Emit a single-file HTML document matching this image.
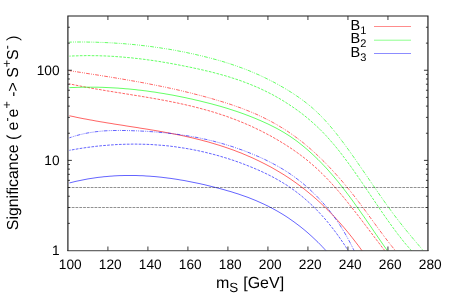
<!DOCTYPE html>
<html><head><meta charset="utf-8"><title>plot</title>
<style>
html,body{margin:0;padding:0;background:#fff;}
svg{display:block;}
text{font-family:"Liberation Sans",sans-serif;fill:#000;text-rendering:geometricPrecision;}
</style></head><body>
<svg width="453" height="307" viewBox="0 0 453 307" style="will-change:transform">
<rect x="0" y="0" width="453" height="307" fill="#fff"/>
<defs><clipPath id="pc"><rect x="69.4" y="16.0" width="358.55" height="234.5"/></clipPath></defs>
<g clip-path="url(#pc)">
<path d="M68.0,115.4 L70.0,115.9 L72.0,116.3 L74.0,116.7 L76.0,117.2 L78.0,117.6 L80.0,118.0 L82.0,118.4 L84.0,118.8 L86.0,119.1 L88.0,119.5 L90.0,119.9 L92.0,120.2 L94.0,120.6 L96.0,121.0 L98.0,121.3 L100.0,121.7 L102.0,122.0 L104.0,122.3 L106.0,122.7 L108.0,123.0 L110.0,123.3 L112.0,123.6 L114.0,124.0 L116.0,124.3 L118.0,124.6 L120.0,124.9 L122.0,125.2 L124.0,125.5 L126.0,125.9 L128.0,126.2 L130.0,126.5 L132.0,126.8 L134.0,127.1 L136.0,127.4 L138.0,127.7 L140.0,128.1 L142.0,128.4 L144.0,128.7 L146.0,129.0 L148.0,129.3 L150.0,129.7 L152.0,130.0 L154.0,130.3 L156.0,130.7 L158.0,131.0 L160.0,131.4 L162.0,131.7 L164.0,132.1 L166.0,132.5 L168.0,132.8 L170.0,133.2 L172.0,133.6 L174.0,134.0 L176.0,134.4 L178.0,134.8 L180.0,135.2 L182.0,135.6 L184.0,136.0 L186.0,136.5 L188.0,136.9 L190.0,137.4 L192.0,137.8 L194.0,138.3 L196.0,138.8 L198.0,139.3 L200.0,139.8 L202.0,140.3 L204.0,140.9 L206.0,141.4 L208.0,141.9 L210.0,142.5 L212.0,143.1 L214.0,143.7 L216.0,144.3 L218.0,144.9 L220.0,145.5 L222.0,146.2 L224.0,146.8 L226.0,147.5 L228.0,148.2 L230.0,148.9 L232.0,149.6 L234.0,150.3 L236.0,151.1 L238.0,151.9 L240.0,152.6 L242.0,153.4 L244.0,154.3 L246.0,155.1 L248.0,156.0 L250.0,156.8 L252.0,157.7 L254.0,158.6 L256.0,159.6 L258.0,160.5 L260.0,161.5 L262.0,162.5 L264.0,163.5 L266.0,164.5 L268.0,165.6 L270.0,166.6 L272.0,167.7 L274.0,168.9 L276.0,170.0 L278.0,171.2 L280.0,172.4 L282.0,173.6 L284.0,174.8 L286.0,176.1 L288.0,177.4 L290.0,178.7 L292.0,180.1 L294.0,181.5 L296.0,182.9 L298.0,184.4 L300.0,185.8 L302.0,187.4 L304.0,188.9 L306.0,190.5 L308.0,192.1 L310.0,193.8 L312.0,195.4 L314.0,197.2 L316.0,198.9 L318.0,200.7 L320.0,202.5 L322.0,204.4 L324.0,206.3 L326.0,208.3 L328.0,210.2 L330.0,212.3 L332.0,214.3 L334.0,216.4 L336.0,218.6 L338.0,220.8 L340.0,223.0 L342.0,225.3 L344.0,227.6 L346.0,230.0 L348.0,232.4 L350.0,234.9 L352.0,237.4 L354.0,240.0 L356.0,242.6 L358.0,245.2 L360.0,247.9 L361.5,250.0 L364.5,254.1" fill="none" stroke="#ff0000" stroke-width="0.9" stroke-opacity="0.68"/>
<path d="M68.0,83.5 L70.0,84.0 L72.0,84.4 L74.0,84.8 L76.0,85.2 L78.0,85.6 L80.0,86.0 L82.0,86.4 L84.0,86.8 L86.0,87.2 L88.0,87.5 L90.0,87.9 L92.0,88.3 L94.0,88.6 L96.0,89.0 L98.0,89.3 L100.0,89.6 L102.0,90.0 L104.0,90.3 L106.0,90.7 L108.0,91.0 L110.0,91.3 L112.0,91.6 L114.0,92.0 L116.0,92.3 L118.0,92.6 L120.0,92.9 L122.0,93.2 L124.0,93.6 L126.0,93.9 L128.0,94.2 L130.0,94.5 L132.0,94.9 L134.0,95.2 L136.0,95.5 L138.0,95.8 L140.0,96.1 L142.0,96.5 L144.0,96.8 L146.0,97.1 L148.0,97.5 L150.0,97.8 L152.0,98.2 L154.0,98.5 L156.0,98.9 L158.0,99.2 L160.0,99.6 L162.0,100.0 L164.0,100.3 L166.0,100.7 L168.0,101.1 L170.0,101.5 L172.0,101.9 L174.0,102.3 L176.0,102.7 L178.0,103.1 L180.0,103.6 L182.0,104.0 L184.0,104.4 L186.0,104.9 L188.0,105.4 L190.0,105.8 L192.0,106.3 L194.0,106.8 L196.0,107.3 L198.0,107.8 L200.0,108.3 L202.0,108.9 L204.0,109.4 L206.0,110.0 L208.0,110.5 L210.0,111.1 L212.0,111.7 L214.0,112.3 L216.0,112.9 L218.0,113.6 L220.0,114.2 L222.0,114.9 L224.0,115.5 L226.0,116.2 L228.0,116.9 L230.0,117.7 L232.0,118.4 L234.0,119.1 L236.0,119.9 L238.0,120.7 L240.0,121.5 L242.0,122.3 L244.0,123.1 L246.0,124.0 L248.0,124.8 L250.0,125.7 L252.0,126.6 L254.0,127.6 L256.0,128.5 L258.0,129.5 L260.0,130.4 L262.0,131.4 L264.0,132.5 L266.0,133.5 L268.0,134.6 L270.0,135.6 L272.0,136.7 L274.0,137.9 L276.0,139.0 L278.0,140.2 L280.0,141.4 L282.0,142.6 L284.0,143.8 L286.0,145.1 L288.0,146.4 L290.0,147.7 L292.0,149.0 L294.0,150.4 L296.0,151.8 L298.0,153.2 L300.0,154.7 L302.0,156.2 L304.0,157.7 L306.0,159.3 L308.0,160.9 L310.0,162.6 L312.0,164.3 L314.0,166.1 L316.0,167.8 L318.0,169.7 L320.0,171.6 L322.0,173.5 L324.0,175.5 L326.0,177.6 L328.0,179.6 L330.0,181.8 L332.0,183.9 L334.0,186.2 L336.0,188.4 L338.0,190.7 L340.0,193.1 L342.0,195.4 L344.0,197.9 L346.0,200.3 L348.0,202.8 L350.0,205.3 L352.0,207.8 L354.0,210.4 L356.0,212.9 L358.0,215.5 L360.0,218.1 L362.0,220.7 L364.0,223.4 L366.0,226.0 L368.0,228.6 L370.0,231.3 L372.0,233.9 L374.0,236.6 L376.0,239.2 L378.0,241.8 L380.0,244.4 L382.0,247.1 L384.0,249.6 L384.6,250.4 L387.6,254.3" fill="none" stroke="#ff0000" stroke-width="0.9" stroke-opacity="0.68" stroke-dasharray="2.7 1.25"/>
<path d="M68.0,70.5 L70.0,70.8 L72.0,71.1 L74.0,71.4 L76.0,71.7 L78.0,72.0 L80.0,72.3 L82.0,72.6 L84.0,72.9 L86.0,73.3 L88.0,73.6 L90.0,73.9 L92.0,74.2 L94.0,74.5 L96.0,74.8 L98.0,75.1 L100.0,75.4 L102.0,75.8 L104.0,76.1 L106.0,76.4 L108.0,76.7 L110.0,77.0 L112.0,77.4 L114.0,77.7 L116.0,78.0 L118.0,78.4 L120.0,78.7 L122.0,79.0 L124.0,79.4 L126.0,79.7 L128.0,80.1 L130.0,80.4 L132.0,80.8 L134.0,81.1 L136.0,81.5 L138.0,81.8 L140.0,82.2 L142.0,82.6 L144.0,82.9 L146.0,83.3 L148.0,83.7 L150.0,84.1 L152.0,84.5 L154.0,84.9 L156.0,85.3 L158.0,85.7 L160.0,86.1 L162.0,86.5 L164.0,86.9 L166.0,87.3 L168.0,87.8 L170.0,88.2 L172.0,88.6 L174.0,89.1 L176.0,89.5 L178.0,90.0 L180.0,90.4 L182.0,90.9 L184.0,91.4 L186.0,91.9 L188.0,92.4 L190.0,92.8 L192.0,93.3 L194.0,93.9 L196.0,94.4 L198.0,94.9 L200.0,95.4 L202.0,95.9 L204.0,96.5 L206.0,97.0 L208.0,97.6 L210.0,98.1 L212.0,98.7 L214.0,99.3 L216.0,99.9 L218.0,100.5 L220.0,101.1 L222.0,101.7 L224.0,102.3 L226.0,102.9 L228.0,103.6 L230.0,104.2 L232.0,104.9 L234.0,105.6 L236.0,106.3 L238.0,107.0 L240.0,107.7 L242.0,108.4 L244.0,109.2 L246.0,110.0 L248.0,110.8 L250.0,111.6 L252.0,112.4 L254.0,113.3 L256.0,114.1 L258.0,115.0 L260.0,116.0 L262.0,116.9 L264.0,117.9 L266.0,118.9 L268.0,119.9 L270.0,120.9 L272.0,122.0 L274.0,123.1 L276.0,124.2 L278.0,125.4 L280.0,126.6 L282.0,127.8 L284.0,129.0 L286.0,130.3 L288.0,131.6 L290.0,133.0 L292.0,134.4 L294.0,135.8 L296.0,137.3 L298.0,138.7 L300.0,140.3 L302.0,141.8 L304.0,143.4 L306.0,145.1 L308.0,146.8 L310.0,148.5 L312.0,150.3 L314.0,152.0 L316.0,153.9 L318.0,155.8 L320.0,157.7 L322.0,159.6 L324.0,161.6 L326.0,163.6 L328.0,165.7 L330.0,167.8 L332.0,169.9 L334.0,172.1 L336.0,174.3 L338.0,176.5 L340.0,178.8 L342.0,181.1 L344.0,183.5 L346.0,185.9 L348.0,188.3 L350.0,190.7 L352.0,193.3 L354.0,195.8 L356.0,198.4 L358.0,201.0 L360.0,203.6 L362.0,206.3 L364.0,209.0 L366.0,211.7 L368.0,214.4 L370.0,217.2 L372.0,219.9 L374.0,222.6 L376.0,225.4 L378.0,228.1 L380.0,230.8 L382.0,233.5 L384.0,236.2 L386.0,238.8 L388.0,241.4 L390.0,244.0 L392.0,246.5 L394.0,249.0 L395.2,250.5 L398.2,254.1" fill="none" stroke="#ff0000" stroke-width="0.9" stroke-opacity="0.68" stroke-dasharray="3.8 1.25 0.9 1.15 0.9 1.15"/>
<path d="M68.0,87.7 L70.0,87.6 L72.0,87.5 L74.0,87.5 L76.0,87.4 L78.0,87.3 L80.0,87.3 L82.0,87.2 L84.0,87.2 L86.0,87.2 L88.0,87.2 L90.0,87.2 L92.0,87.2 L94.0,87.2 L96.0,87.2 L98.0,87.2 L100.0,87.3 L102.0,87.3 L104.0,87.4 L106.0,87.5 L108.0,87.6 L110.0,87.7 L112.0,87.8 L114.0,87.9 L116.0,88.0 L118.0,88.1 L120.0,88.3 L122.0,88.4 L124.0,88.6 L126.0,88.8 L128.0,88.9 L130.0,89.1 L132.0,89.3 L134.0,89.5 L136.0,89.7 L138.0,90.0 L140.0,90.2 L142.0,90.4 L144.0,90.7 L146.0,90.9 L148.0,91.2 L150.0,91.5 L152.0,91.8 L154.0,92.0 L156.0,92.3 L158.0,92.7 L160.0,93.0 L162.0,93.3 L164.0,93.6 L166.0,94.0 L168.0,94.3 L170.0,94.7 L172.0,95.0 L174.0,95.4 L176.0,95.8 L178.0,96.2 L180.0,96.6 L182.0,97.0 L184.0,97.4 L186.0,97.8 L188.0,98.3 L190.0,98.7 L192.0,99.1 L194.0,99.6 L196.0,100.1 L198.0,100.5 L200.0,101.0 L202.0,101.5 L204.0,102.0 L206.0,102.5 L208.0,103.0 L210.0,103.5 L212.0,104.0 L214.0,104.6 L216.0,105.1 L218.0,105.7 L220.0,106.2 L222.0,106.8 L224.0,107.4 L226.0,108.0 L228.0,108.6 L230.0,109.3 L232.0,109.9 L234.0,110.6 L236.0,111.2 L238.0,111.9 L240.0,112.6 L242.0,113.3 L244.0,114.0 L246.0,114.8 L248.0,115.5 L250.0,116.3 L252.0,117.1 L254.0,117.9 L256.0,118.7 L258.0,119.6 L260.0,120.4 L262.0,121.3 L264.0,122.2 L266.0,123.1 L268.0,124.0 L270.0,125.0 L272.0,126.0 L274.0,127.0 L276.0,128.0 L278.0,129.1 L280.0,130.2 L282.0,131.4 L284.0,132.5 L286.0,133.8 L288.0,135.0 L290.0,136.3 L292.0,137.7 L294.0,139.1 L296.0,140.5 L298.0,142.0 L300.0,143.6 L302.0,145.2 L304.0,146.8 L306.0,148.5 L308.0,150.2 L310.0,152.0 L312.0,153.8 L314.0,155.7 L316.0,157.6 L318.0,159.5 L320.0,161.5 L322.0,163.6 L324.0,165.7 L326.0,167.8 L328.0,170.0 L330.0,172.3 L332.0,174.6 L334.0,176.9 L336.0,179.3 L338.0,181.7 L340.0,184.2 L342.0,186.7 L344.0,189.3 L346.0,191.9 L348.0,194.5 L350.0,197.2 L352.0,199.9 L354.0,202.7 L356.0,205.5 L358.0,208.3 L360.0,211.1 L362.0,214.0 L364.0,216.8 L366.0,219.7 L368.0,222.6 L370.0,225.5 L372.0,228.4 L374.0,231.4 L376.0,234.3 L378.0,237.2 L380.0,240.1 L382.0,243.0 L384.0,245.9 L386.0,248.7 L387.4,250.7 L390.4,255.0" fill="none" stroke="#00ff00" stroke-width="0.9" stroke-opacity="0.68"/>
<path d="M68.0,56.2 L70.0,56.1 L72.0,56.0 L74.0,55.9 L76.0,55.9 L78.0,55.8 L80.0,55.7 L82.0,55.7 L84.0,55.7 L86.0,55.6 L88.0,55.6 L90.0,55.6 L92.0,55.7 L94.0,55.7 L96.0,55.7 L98.0,55.7 L100.0,55.8 L102.0,55.9 L104.0,55.9 L106.0,56.0 L108.0,56.1 L110.0,56.2 L112.0,56.3 L114.0,56.4 L116.0,56.6 L118.0,56.7 L120.0,56.9 L122.0,57.0 L124.0,57.2 L126.0,57.4 L128.0,57.6 L130.0,57.7 L132.0,57.9 L134.0,58.2 L136.0,58.4 L138.0,58.6 L140.0,58.8 L142.0,59.1 L144.0,59.3 L146.0,59.6 L148.0,59.9 L150.0,60.1 L152.0,60.4 L154.0,60.7 L156.0,61.0 L158.0,61.3 L160.0,61.6 L162.0,62.0 L164.0,62.3 L166.0,62.6 L168.0,63.0 L170.0,63.3 L172.0,63.7 L174.0,64.1 L176.0,64.4 L178.0,64.8 L180.0,65.2 L182.0,65.6 L184.0,66.0 L186.0,66.4 L188.0,66.8 L190.0,67.2 L192.0,67.6 L194.0,68.1 L196.0,68.5 L198.0,68.9 L200.0,69.4 L202.0,69.8 L204.0,70.3 L206.0,70.8 L208.0,71.2 L210.0,71.7 L212.0,72.2 L214.0,72.7 L216.0,73.3 L218.0,73.8 L220.0,74.3 L222.0,74.9 L224.0,75.4 L226.0,76.0 L228.0,76.6 L230.0,77.2 L232.0,77.9 L234.0,78.5 L236.0,79.2 L238.0,79.8 L240.0,80.5 L242.0,81.2 L244.0,82.0 L246.0,82.7 L248.0,83.5 L250.0,84.3 L252.0,85.1 L254.0,85.9 L256.0,86.8 L258.0,87.6 L260.0,88.5 L262.0,89.5 L264.0,90.4 L266.0,91.4 L268.0,92.4 L270.0,93.4 L272.0,94.4 L274.0,95.5 L276.0,96.6 L278.0,97.8 L280.0,98.9 L282.0,100.1 L284.0,101.3 L286.0,102.6 L288.0,103.9 L290.0,105.2 L292.0,106.5 L294.0,107.9 L296.0,109.3 L298.0,110.7 L300.0,112.2 L302.0,113.7 L304.0,115.3 L306.0,116.9 L308.0,118.6 L310.0,120.2 L312.0,122.0 L314.0,123.8 L316.0,125.6 L318.0,127.5 L320.0,129.4 L322.0,131.4 L324.0,133.5 L326.0,135.6 L328.0,137.8 L330.0,140.1 L332.0,142.4 L334.0,144.7 L336.0,147.1 L338.0,149.6 L340.0,152.1 L342.0,154.7 L344.0,157.3 L346.0,160.0 L348.0,162.7 L350.0,165.4 L352.0,168.2 L354.0,171.0 L356.0,173.9 L358.0,176.8 L360.0,179.7 L362.0,182.6 L364.0,185.5 L366.0,188.5 L368.0,191.4 L370.0,194.4 L372.0,197.4 L374.0,200.3 L376.0,203.3 L378.0,206.2 L380.0,209.2 L382.0,212.1 L384.0,215.0 L386.0,217.9 L388.0,220.7 L390.0,223.5 L392.0,226.3 L394.0,229.0 L396.0,231.7 L398.0,234.4 L400.0,236.9 L402.0,239.5 L404.0,242.0 L406.0,244.4 L408.0,246.7 L410.0,249.0 L410.7,249.8 L413.7,253.2" fill="none" stroke="#00ff00" stroke-width="0.9" stroke-opacity="0.68" stroke-dasharray="2.7 1.25"/>
<path d="M68.0,42.1 L70.0,42.1 L72.0,42.1 L74.0,42.0 L76.0,42.0 L78.0,42.0 L80.0,42.0 L82.0,42.0 L84.0,42.0 L86.0,42.0 L88.0,42.1 L90.0,42.1 L92.0,42.1 L94.0,42.2 L96.0,42.2 L98.0,42.3 L100.0,42.4 L102.0,42.4 L104.0,42.5 L106.0,42.6 L108.0,42.7 L110.0,42.8 L112.0,42.9 L114.0,43.0 L116.0,43.2 L118.0,43.3 L120.0,43.4 L122.0,43.6 L124.0,43.7 L126.0,43.9 L128.0,44.1 L130.0,44.2 L132.0,44.4 L134.0,44.6 L136.0,44.8 L138.0,45.0 L140.0,45.2 L142.0,45.5 L144.0,45.7 L146.0,45.9 L148.0,46.2 L150.0,46.4 L152.0,46.7 L154.0,47.0 L156.0,47.3 L158.0,47.6 L160.0,47.8 L162.0,48.2 L164.0,48.5 L166.0,48.8 L168.0,49.1 L170.0,49.4 L172.0,49.8 L174.0,50.1 L176.0,50.5 L178.0,50.9 L180.0,51.3 L182.0,51.6 L184.0,52.0 L186.0,52.4 L188.0,52.9 L190.0,53.3 L192.0,53.7 L194.0,54.1 L196.0,54.6 L198.0,55.1 L200.0,55.5 L202.0,56.0 L204.0,56.5 L206.0,57.0 L208.0,57.5 L210.0,58.0 L212.0,58.5 L214.0,59.1 L216.0,59.6 L218.0,60.2 L220.0,60.7 L222.0,61.3 L224.0,61.9 L226.0,62.6 L228.0,63.2 L230.0,63.8 L232.0,64.5 L234.0,65.2 L236.0,65.8 L238.0,66.6 L240.0,67.3 L242.0,68.0 L244.0,68.8 L246.0,69.5 L248.0,70.3 L250.0,71.1 L252.0,72.0 L254.0,72.8 L256.0,73.7 L258.0,74.5 L260.0,75.4 L262.0,76.4 L264.0,77.3 L266.0,78.3 L268.0,79.3 L270.0,80.3 L272.0,81.3 L274.0,82.3 L276.0,83.4 L278.0,84.5 L280.0,85.6 L282.0,86.8 L284.0,87.9 L286.0,89.1 L288.0,90.3 L290.0,91.6 L292.0,92.8 L294.0,94.1 L296.0,95.5 L298.0,96.8 L300.0,98.2 L302.0,99.7 L304.0,101.2 L306.0,102.7 L308.0,104.3 L310.0,105.9 L312.0,107.6 L314.0,109.4 L316.0,111.2 L318.0,113.1 L320.0,115.1 L322.0,117.1 L324.0,119.2 L326.0,121.4 L328.0,123.6 L330.0,125.9 L332.0,128.3 L334.0,130.7 L336.0,133.2 L338.0,135.7 L340.0,138.3 L342.0,141.0 L344.0,143.6 L346.0,146.4 L348.0,149.1 L350.0,151.9 L352.0,154.7 L354.0,157.5 L356.0,160.4 L358.0,163.3 L360.0,166.2 L362.0,169.1 L364.0,172.0 L366.0,174.9 L368.0,177.8 L370.0,180.8 L372.0,183.7 L374.0,186.6 L376.0,189.5 L378.0,192.4 L380.0,195.3 L382.0,198.1 L384.0,201.0 L386.0,203.8 L388.0,206.6 L390.0,209.3 L392.0,212.1 L394.0,214.8 L396.0,217.4 L398.0,220.0 L400.0,222.6 L402.0,225.1 L404.0,227.6 L406.0,230.1 L408.0,232.5 L410.0,234.9 L412.0,237.3 L414.0,239.7 L416.0,242.1 L418.0,244.4 L420.0,246.8 L422.0,249.2 L422.8,250.2 L425.8,253.8" fill="none" stroke="#00ff00" stroke-width="0.9" stroke-opacity="0.68" stroke-dasharray="3.8 1.25 0.9 1.15 0.9 1.15"/>
<path d="M68.0,183.3 L70.0,182.8 L72.0,182.3 L74.0,181.8 L76.0,181.3 L78.0,180.9 L80.0,180.5 L82.0,180.1 L84.0,179.7 L86.0,179.3 L88.0,178.9 L90.0,178.6 L92.0,178.3 L94.0,178.0 L96.0,177.7 L98.0,177.4 L100.0,177.2 L102.0,177.0 L104.0,176.7 L106.0,176.6 L108.0,176.4 L110.0,176.2 L112.0,176.1 L114.0,175.9 L116.0,175.8 L118.0,175.7 L120.0,175.6 L122.0,175.6 L124.0,175.5 L126.0,175.5 L128.0,175.5 L130.0,175.5 L132.0,175.5 L134.0,175.5 L136.0,175.5 L138.0,175.6 L140.0,175.7 L142.0,175.7 L144.0,175.8 L146.0,176.0 L148.0,176.1 L150.0,176.2 L152.0,176.4 L154.0,176.5 L156.0,176.7 L158.0,176.9 L160.0,177.1 L162.0,177.3 L164.0,177.6 L166.0,177.8 L168.0,178.1 L170.0,178.3 L172.0,178.6 L174.0,178.9 L176.0,179.2 L178.0,179.5 L180.0,179.9 L182.0,180.2 L184.0,180.5 L186.0,180.9 L188.0,181.3 L190.0,181.7 L192.0,182.1 L194.0,182.5 L196.0,182.9 L198.0,183.3 L200.0,183.7 L202.0,184.2 L204.0,184.6 L206.0,185.1 L208.0,185.6 L210.0,186.1 L212.0,186.6 L214.0,187.1 L216.0,187.6 L218.0,188.1 L220.0,188.6 L222.0,189.2 L224.0,189.7 L226.0,190.3 L228.0,190.9 L230.0,191.4 L232.0,192.0 L234.0,192.7 L236.0,193.3 L238.0,193.9 L240.0,194.6 L242.0,195.3 L244.0,196.0 L246.0,196.7 L248.0,197.4 L250.0,198.2 L252.0,199.0 L254.0,199.8 L256.0,200.6 L258.0,201.5 L260.0,202.4 L262.0,203.3 L264.0,204.2 L266.0,205.2 L268.0,206.1 L270.0,207.2 L272.0,208.2 L274.0,209.3 L276.0,210.4 L278.0,211.5 L280.0,212.7 L282.0,213.9 L284.0,215.1 L286.0,216.4 L288.0,217.7 L290.0,219.1 L292.0,220.5 L294.0,221.9 L296.0,223.4 L298.0,224.9 L300.0,226.4 L302.0,228.0 L304.0,229.6 L306.0,231.3 L308.0,233.0 L310.0,234.8 L312.0,236.6 L314.0,238.5 L316.0,240.4 L318.0,242.3 L320.0,244.3 L322.0,246.4 L324.0,248.5 L325.1,249.7 L328.1,252.9" fill="none" stroke="#0000ff" stroke-width="0.9" stroke-opacity="0.68"/>
<path d="M68.0,150.6 L70.0,150.2 L72.0,149.9 L74.0,149.5 L76.0,149.2 L78.0,148.8 L80.0,148.5 L82.0,148.2 L84.0,147.9 L86.0,147.6 L88.0,147.3 L90.0,147.1 L92.0,146.8 L94.0,146.6 L96.0,146.3 L98.0,146.1 L100.0,145.9 L102.0,145.7 L104.0,145.5 L106.0,145.4 L108.0,145.2 L110.0,145.0 L112.0,144.9 L114.0,144.8 L116.0,144.6 L118.0,144.5 L120.0,144.4 L122.0,144.4 L124.0,144.3 L126.0,144.2 L128.0,144.2 L130.0,144.2 L132.0,144.1 L134.0,144.1 L136.0,144.1 L138.0,144.2 L140.0,144.2 L142.0,144.2 L144.0,144.3 L146.0,144.3 L148.0,144.4 L150.0,144.5 L152.0,144.6 L154.0,144.7 L156.0,144.9 L158.0,145.0 L160.0,145.2 L162.0,145.3 L164.0,145.5 L166.0,145.7 L168.0,145.9 L170.0,146.1 L172.0,146.4 L174.0,146.6 L176.0,146.9 L178.0,147.2 L180.0,147.5 L182.0,147.8 L184.0,148.1 L186.0,148.4 L188.0,148.8 L190.0,149.1 L192.0,149.5 L194.0,149.9 L196.0,150.3 L198.0,150.7 L200.0,151.1 L202.0,151.6 L204.0,152.0 L206.0,152.5 L208.0,153.0 L210.0,153.5 L212.0,154.0 L214.0,154.5 L216.0,155.1 L218.0,155.6 L220.0,156.2 L222.0,156.8 L224.0,157.4 L226.0,158.0 L228.0,158.6 L230.0,159.3 L232.0,159.9 L234.0,160.6 L236.0,161.3 L238.0,162.0 L240.0,162.7 L242.0,163.5 L244.0,164.2 L246.0,165.0 L248.0,165.8 L250.0,166.6 L252.0,167.4 L254.0,168.2 L256.0,169.1 L258.0,169.9 L260.0,170.8 L262.0,171.7 L264.0,172.7 L266.0,173.6 L268.0,174.6 L270.0,175.6 L272.0,176.6 L274.0,177.7 L276.0,178.8 L278.0,179.9 L280.0,181.1 L282.0,182.2 L284.0,183.5 L286.0,184.7 L288.0,186.0 L290.0,187.4 L292.0,188.8 L294.0,190.2 L296.0,191.7 L298.0,193.2 L300.0,194.8 L302.0,196.4 L304.0,198.1 L306.0,199.8 L308.0,201.6 L310.0,203.4 L312.0,205.3 L314.0,207.2 L316.0,209.2 L318.0,211.3 L320.0,213.4 L322.0,215.6 L324.0,217.8 L326.0,220.1 L328.0,222.5 L330.0,225.0 L332.0,227.5 L334.0,230.1 L336.0,232.7 L338.0,235.5 L340.0,238.3 L342.0,241.2 L344.0,244.1 L346.0,247.2 L348.0,250.3 L351.0,255.0" fill="none" stroke="#0000ff" stroke-width="0.9" stroke-opacity="0.68" stroke-dasharray="2.7 1.25"/>
<path d="M68.0,138.4 L70.0,137.6 L72.0,137.0 L74.0,136.3 L76.0,135.7 L78.0,135.2 L80.0,134.6 L82.0,134.2 L84.0,133.7 L86.0,133.3 L88.0,132.9 L90.0,132.6 L92.0,132.3 L94.0,132.0 L96.0,131.7 L98.0,131.5 L100.0,131.3 L102.0,131.1 L104.0,130.9 L106.0,130.8 L108.0,130.7 L110.0,130.6 L112.0,130.6 L114.0,130.5 L116.0,130.5 L118.0,130.5 L120.0,130.4 L122.0,130.5 L124.0,130.5 L126.0,130.5 L128.0,130.6 L130.0,130.6 L132.0,130.7 L134.0,130.8 L136.0,130.8 L138.0,130.9 L140.0,131.0 L142.0,131.1 L144.0,131.2 L146.0,131.3 L148.0,131.4 L150.0,131.6 L152.0,131.7 L154.0,131.9 L156.0,132.0 L158.0,132.2 L160.0,132.4 L162.0,132.6 L164.0,132.7 L166.0,133.0 L168.0,133.2 L170.0,133.4 L172.0,133.6 L174.0,133.9 L176.0,134.1 L178.0,134.4 L180.0,134.7 L182.0,135.0 L184.0,135.3 L186.0,135.6 L188.0,135.9 L190.0,136.3 L192.0,136.6 L194.0,137.0 L196.0,137.3 L198.0,137.7 L200.0,138.1 L202.0,138.6 L204.0,139.0 L206.0,139.4 L208.0,139.9 L210.0,140.4 L212.0,140.8 L214.0,141.3 L216.0,141.9 L218.0,142.4 L220.0,142.9 L222.0,143.5 L224.0,144.1 L226.0,144.7 L228.0,145.3 L230.0,145.9 L232.0,146.5 L234.0,147.2 L236.0,147.9 L238.0,148.6 L240.0,149.3 L242.0,150.0 L244.0,150.7 L246.0,151.5 L248.0,152.3 L250.0,153.1 L252.0,153.9 L254.0,154.7 L256.0,155.6 L258.0,156.4 L260.0,157.3 L262.0,158.2 L264.0,159.1 L266.0,160.1 L268.0,161.1 L270.0,162.1 L272.0,163.1 L274.0,164.2 L276.0,165.2 L278.0,166.4 L280.0,167.5 L282.0,168.7 L284.0,169.9 L286.0,171.2 L288.0,172.5 L290.0,173.8 L292.0,175.2 L294.0,176.6 L296.0,178.1 L298.0,179.6 L300.0,181.1 L302.0,182.7 L304.0,184.4 L306.0,186.1 L308.0,187.9 L310.0,189.7 L312.0,191.6 L314.0,193.5 L316.0,195.5 L318.0,197.5 L320.0,199.7 L322.0,201.8 L324.0,204.1 L326.0,206.4 L328.0,208.8 L330.0,211.3 L332.0,213.9 L334.0,216.6 L336.0,219.4 L338.0,222.3 L340.0,225.3 L342.0,228.5 L344.0,231.7 L346.0,235.2 L348.0,238.8 L350.0,242.5 L352.0,246.4 L353.6,249.6 L356.6,255.7" fill="none" stroke="#0000ff" stroke-width="0.9" stroke-opacity="0.68" stroke-dasharray="3.8 1.25 0.9 1.15 0.9 1.15"/>
</g>
<g stroke="#000" stroke-width="1.1" stroke-opacity="0.43" stroke-dasharray="2.8 1" fill="none">
<line x1="67.9" y1="187.5" x2="427.95" y2="187.5"/>
<line x1="67.9" y1="207.5" x2="427.95" y2="207.5"/>
</g>
<g stroke="#1a1a1a" stroke-width="0.85" fill="none">
<path d="M67.9,251.1 L67.9,16.0 L427.95,16.0 L427.95,251.1" stroke-width="1.15"/>
<line x1="67.33000000000001" y1="250.72" x2="428.52" y2="250.72" stroke="#2a2a2a" stroke-width="0.9"/>
<line x1="107.91" y1="250.5" x2="107.91" y2="246.5"/>
<line x1="107.91" y1="16.0" x2="107.91" y2="20.0"/>
<line x1="147.91" y1="250.5" x2="147.91" y2="246.5"/>
<line x1="147.91" y1="16.0" x2="147.91" y2="20.0"/>
<line x1="187.92" y1="250.5" x2="187.92" y2="246.5"/>
<line x1="187.92" y1="16.0" x2="187.92" y2="20.0"/>
<line x1="227.92" y1="250.5" x2="227.92" y2="246.5"/>
<line x1="227.92" y1="16.0" x2="227.92" y2="20.0"/>
<line x1="267.93" y1="250.5" x2="267.93" y2="246.5"/>
<line x1="267.93" y1="16.0" x2="267.93" y2="20.0"/>
<line x1="307.93" y1="250.5" x2="307.93" y2="246.5"/>
<line x1="307.93" y1="16.0" x2="307.93" y2="20.0"/>
<line x1="347.94" y1="250.5" x2="347.94" y2="246.5"/>
<line x1="347.94" y1="16.0" x2="347.94" y2="20.0"/>
<line x1="387.94" y1="250.5" x2="387.94" y2="246.5"/>
<line x1="387.94" y1="16.0" x2="387.94" y2="20.0"/>
<line x1="67.9" y1="223.37" x2="69.9" y2="223.37"/>
<line x1="427.95" y1="223.37" x2="425.95" y2="223.37"/>
<line x1="67.9" y1="207.50" x2="69.9" y2="207.50"/>
<line x1="427.95" y1="207.50" x2="425.95" y2="207.50"/>
<line x1="67.9" y1="196.24" x2="69.9" y2="196.24"/>
<line x1="427.95" y1="196.24" x2="425.95" y2="196.24"/>
<line x1="67.9" y1="187.51" x2="69.9" y2="187.51"/>
<line x1="427.95" y1="187.51" x2="425.95" y2="187.51"/>
<line x1="67.9" y1="180.37" x2="69.9" y2="180.37"/>
<line x1="427.95" y1="180.37" x2="425.95" y2="180.37"/>
<line x1="67.9" y1="174.34" x2="69.9" y2="174.34"/>
<line x1="427.95" y1="174.34" x2="425.95" y2="174.34"/>
<line x1="67.9" y1="169.11" x2="69.9" y2="169.11"/>
<line x1="427.95" y1="169.11" x2="425.95" y2="169.11"/>
<line x1="67.9" y1="164.50" x2="69.9" y2="164.50"/>
<line x1="427.95" y1="164.50" x2="425.95" y2="164.50"/>
<line x1="67.9" y1="160.38" x2="71.9" y2="160.38"/>
<line x1="427.95" y1="160.38" x2="423.95" y2="160.38"/>
<line x1="67.9" y1="133.25" x2="69.9" y2="133.25"/>
<line x1="427.95" y1="133.25" x2="425.95" y2="133.25"/>
<line x1="67.9" y1="117.38" x2="69.9" y2="117.38"/>
<line x1="427.95" y1="117.38" x2="425.95" y2="117.38"/>
<line x1="67.9" y1="106.12" x2="69.9" y2="106.12"/>
<line x1="427.95" y1="106.12" x2="425.95" y2="106.12"/>
<line x1="67.9" y1="97.39" x2="69.9" y2="97.39"/>
<line x1="427.95" y1="97.39" x2="425.95" y2="97.39"/>
<line x1="67.9" y1="90.25" x2="69.9" y2="90.25"/>
<line x1="427.95" y1="90.25" x2="425.95" y2="90.25"/>
<line x1="67.9" y1="84.22" x2="69.9" y2="84.22"/>
<line x1="427.95" y1="84.22" x2="425.95" y2="84.22"/>
<line x1="67.9" y1="78.99" x2="69.9" y2="78.99"/>
<line x1="427.95" y1="78.99" x2="425.95" y2="78.99"/>
<line x1="67.9" y1="74.38" x2="69.9" y2="74.38"/>
<line x1="427.95" y1="74.38" x2="425.95" y2="74.38"/>
<line x1="67.9" y1="70.26" x2="71.9" y2="70.26"/>
<line x1="427.95" y1="70.26" x2="423.95" y2="70.26"/>
<line x1="67.9" y1="43.13" x2="69.9" y2="43.13"/>
<line x1="427.95" y1="43.13" x2="425.95" y2="43.13"/>
<line x1="67.9" y1="27.26" x2="69.9" y2="27.26"/>
<line x1="427.95" y1="27.26" x2="425.95" y2="27.26"/>
</g>
<g font-size="13.7">
<text x="70.20" y="268.8" text-anchor="middle">100</text><text x="110.21" y="268.8" text-anchor="middle">120</text><text x="150.21" y="268.8" text-anchor="middle">140</text><text x="190.22" y="268.8" text-anchor="middle">160</text><text x="230.22" y="268.8" text-anchor="middle">180</text><text x="270.23" y="268.8" text-anchor="middle">200</text><text x="310.23" y="268.8" text-anchor="middle">220</text><text x="350.24" y="268.8" text-anchor="middle">240</text><text x="390.24" y="268.8" text-anchor="middle">260</text><text x="430.25" y="268.8" text-anchor="middle">280</text>
<text x="59.5" y="255.2" text-anchor="end">1</text><text x="59.5" y="165.1" text-anchor="end">10</text><text x="59.5" y="75.0" text-anchor="end">100</text>
</g>
<g font-size="14.5">
<text x="350.6" y="29.8">B<tspan font-size="11" dy="3.8">1</tspan></text>
<text x="350.6" y="43.4">B<tspan font-size="11" dy="3.8">2</tspan></text>
<text x="350.6" y="57">B<tspan font-size="11" dy="3.8">3</tspan></text>
</g>
<g stroke-width="1" stroke-opacity="0.45">
<line x1="374" y1="26.5" x2="411" y2="26.5" stroke="#ff0000"/>
<line x1="374" y1="40.2" x2="411" y2="40.2" stroke="#00ff00"/>
<line x1="374" y1="53.5" x2="411" y2="53.5" stroke="#0000ff"/>
</g>
<text font-size="16" x="216" y="288">m<tspan font-size="13.4" dy="4">S</tspan><tspan dy="-4" dx="0.5"> [GeV]</tspan></text>
<text font-size="15.9" transform="translate(17.5,132.8) rotate(-90)" text-anchor="middle">Significance ( e<tspan font-size="12.5" dy="-6.5">-</tspan><tspan dy="6.5">e</tspan><tspan font-size="12.5" dy="-6.5">+</tspan><tspan dy="6.5"> -&gt; S</tspan><tspan font-size="12.5" dy="-6.5">+</tspan><tspan dy="6.5">S</tspan><tspan font-size="12.5" dy="-6.5">-</tspan><tspan dy="6.5"> )</tspan></text>
</svg>
</body></html>
